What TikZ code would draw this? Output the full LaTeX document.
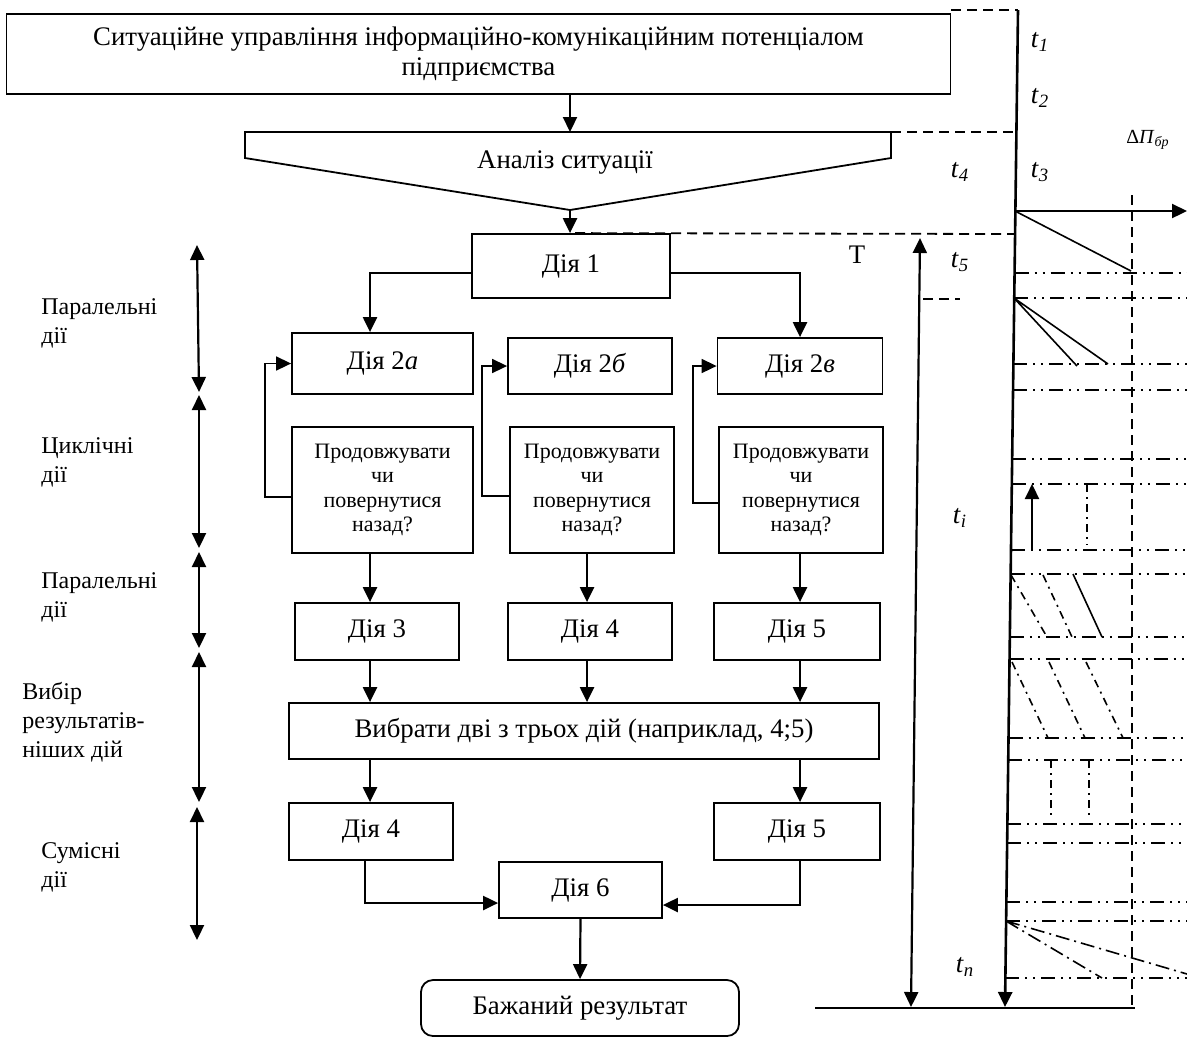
\documentclass[tikz,border=0pt]{standalone}
\usepackage{fontspec}
\setmainfont{Liberation Serif}
\usetikzlibrary{arrows.meta,positioning}

\tikzset{
  box/.style={draw, line width=0.9pt, inner sep=1pt, align=center,
    font=\fontsize{13.4}{15}\selectfont},
  qbox/.style={box, font=\fontsize{11}{12.2}\selectfont},
  lab/.style={anchor=west, align=left, inner sep=0pt, font=\fontsize{12}{14.5}\selectfont},
  tlab/.style={inner sep=0pt, font=\fontsize{13.4}{15}\selectfont},
  arr/.style={-{Triangle[length=7.5pt,width=7pt]}, line width=1.1pt},
  fb/.style={-{Triangle[length=7.5pt,width=7pt]}, line width=0.8pt},
  span/.style={{Triangle[length=7.5pt,width=7pt]}-{Triangle[length=7.5pt,width=7pt]}, line width=1.1pt},
  gridline/.style={line width=0.9pt, dash pattern=on 7pt off 3pt on 1pt off 3pt on 1pt off 3pt},
  trend/.style={line width=0.8pt, dash pattern=on 4pt off 2.5pt on 1pt off 2.5pt},
  trendlong/.style={line width=0.8pt, dash pattern=on 7pt off 2.5pt on 1pt off 2.5pt},
  lvl/.style={line width=0.9pt, dash pattern=on 5pt off 3pt},
}

\begin{document}
\begin{tikzpicture}[x=0.5pt,y=-0.5pt]
  \useasboundingbox (0,0) rectangle (1187,1041);

  % blocks
  \node[box, minimum width=472pt, minimum height=40pt] (sit) at (478.5,54)
    {Ситуаційне управління інформаційно-комунікаційним потенціалом\\підприємства};
  \coordinate (anTop) at (570,132);
  \coordinate (anTip) at (570,210);
  \draw[line width=0.9pt] (245,132) -- (891,132) -- (891,158) -- (anTip) -- (245,158) -- cycle;
  \node[tlab] (an) at (565,163) {Аналіз ситуації};

  \node[box, minimum width=99pt, minimum height=32pt] (d1) at (571,266) {Дія 1};
  \node[box, minimum width=90.5pt, minimum height=30.5pt] (d2a) at (382.5,363.5) {Дія 2\textit{а}};
  \node[box, minimum width=82pt, minimum height=28pt] (d2b) at (590,366) {Дія 2\textit{б}};
  \node[box, minimum width=82.5pt, minimum height=28pt] (d2v) at (800,366) {Дія 2\textit{в}};
  \node[qbox, minimum width=90.5pt, minimum height=63pt] (q1) at (382.5,490) {Продовжувати\\чи\\повернутися\\назад?};
  \node[qbox, minimum width=82pt, minimum height=63pt] (q2) at (592,490) {Продовжувати\\чи\\повернутися\\назад?};
  \node[qbox, minimum width=82pt, minimum height=63pt] (q3) at (801,490) {Продовжувати\\чи\\повернутися\\назад?};
  \node[box, minimum width=82pt, minimum height=28.5pt] (d3) at (377,631.5) {Дія 3};
  \node[box, minimum width=82pt, minimum height=28.5pt] (d4) at (590,631.5) {Дія 4};
  \node[box, minimum width=83pt, minimum height=28.5pt] (d5) at (797,631.5) {Дія 5};
  \node[box, minimum width=295pt, minimum height=28pt] (sel) at (584,731) {Вибрати дві з трьох дій (наприклад, 4;5)};
  \node[box, minimum width=82pt, minimum height=28.5pt] (d4b) at (371,831.5) {Дія 4};
  \node[box, minimum width=83pt, minimum height=28.5pt] (d5b) at (797,831.5) {Дія 5};
  \node[box, minimum width=81.5pt, minimum height=28pt] (d6) at (580.5,890) {Дія 6};
  \node[box, rounded corners=6pt, minimum width=159pt, minimum height=28pt] (res) at (580,1008) {Бажаний результат};

  % columns of the arrows
  \coordinate (cL) at (370,0);
  \coordinate (cM) at (587,0);
  \coordinate (cR) at (800,0);

  \draw[arr] (sit.south -| anTop) -- (anTop);
  \draw[arr] (anTip) -- (d1.north -| anTip);
  \draw[arr] (d1.west |- 0,273) -| (d2a.north -| cL);
  \draw[arr] (d1.east |- 0,273) -| (d2v.north -| cR);
  \draw[fb] (q1.west |- 0,497) -- ++(-26,0) |- (d2a.west);
  \draw[fb] (q2.west |- 0,496) -- ++(-27,0) |- (d2b.west);
  \draw[fb] (q3.west |- 0,503) -- ++(-25,0) |- (d2v.west);
  \draw[arr] (q1.south -| cL) -- (d3.north -| cL);
  \draw[arr] (q2.south -| cM) -- (d4.north -| cM);
  \draw[arr] (q3.south -| cR) -- (d5.north -| cR);
  \draw[arr] (d3.south -| cL) -- (sel.north -| cL);
  \draw[arr] (d4.south -| cM) -- (sel.north -| cM);
  \draw[arr] (d5.south -| cR) -- (sel.north -| cR);
  \draw[arr] (sel.south -| cL) -- (d4b.north -| cL);
  \draw[arr] (sel.south -| cR) -- (d5b.north -| cR);
  \draw[arr] (d4b.south -| 365,0) |- (d6.west |- 0,903);
  \draw[arr] (d5b.south -| cR) |- (d6.east |- 0,905);
  \draw[arr] (d6.south) -- (res.north);

  % stages
  \node[lab] (s1) at (41,323) {Паралельні\\дії};
  \node[lab] (s2) at (41,462) {Циклічні\\дії};
  \node[lab] (s3) at (41,597) {Паралельні\\дії};
  \node[lab] (s4) at (22,722) {Вибір\\результатів-\\ніших дій};
  \node[lab] (s5) at (41,867) {Сумісні\\дії};
  \draw[span] (197,245) -- (199,392);
  \draw[span] (199,395) -- (199,548);
  \draw[span] (199,552) -- (199,648);
  \draw[span] (199,652) -- (199,802);
  \draw[span] (197,807) -- (197,940);

  % time axis
  \coordinate (axT) at (1018,10);
  \coordinate (axB) at (1005,1007);
  \coordinate (o) at (1015,211);
  \draw[arr, line width=1.3pt] (axT) -- (axB);
  \draw[span] (920,238) -- (911,1007);
  \draw[line width=0.9pt] (815,1008) -- (1135,1008);
  \draw[arr] (o) -- (1187,211);
  \draw[lvl] (1132,195) -- (1132,1008);
  \draw[lvl] (951,10) -- (axT);
  \draw[lvl] (891,132) -- (1016,132);
  \draw[lvl] (d1.north -| 575,0) -- (1015,234);
  \draw[lvl] (923,299) -- (960,299);

  \draw[gridline] (1014.6,273) -- (1187,273) (1014.3,298) -- (1187,298)
    (1013.4,364) -- (1187,364) (1013.1,390) -- (1187,390)
    (1012.2,459) -- (1187,459) (1011.8,484) -- (1187,484)
    (1011.0,550) -- (1187,550) (1010.7,574) -- (1187,574)
    (1009.8,637) -- (1187,637) (1009.6,659) -- (1187,659)
    (1008.5,738) -- (1187,738) (1008.3,760) -- (1187,760)
    (1007.4,824) -- (1187,824) (1007.2,843) -- (1187,843)
    (1006.4,902) -- (1187,902) (1006.2,921) -- (1187,921)
    (1005.4,978) -- (1187,978);

  \draw[line width=0.8pt] (o) -- (1131,271);
  \draw[line width=0.8pt] (1014,298) -- (1077,366) (1014,298) -- (1108,364);
  \draw[arr] (1032,549) -- (1032,484);
  \draw[trend] (1087,484) -- (1087,545);
  \draw[line width=0.8pt] (1073,574) -- (1102,637);
  \draw[trend] (1011,575) -- (1047,637) (1043,575) -- (1072,637);
  \draw[trend] (1012,662) -- (1048,738) (1049,662) -- (1085,738) (1086,662) -- (1123,738);
  \draw[trend] (1051,760) -- (1051,818) (1089,760) -- (1089,818);
  \draw[trendlong] (1006,921) -- (1102,978) (1006,921) -- (1187,974);

  % labels
  \node[tlab] (t1) at (1040,42) {\textit{t}\textsubscript{\textit{1}}};
  \node[tlab] (t2) at (1040,98) {\textit{t}\textsubscript{\textit{2}}};
  \node[tlab] (t3) at (1040,172) {\textit{t}\textsubscript{\textit{3}}};
  \node[tlab] (t4) at (960,172) {\textit{t}\textsubscript{\textit{4}}};
  \node[tlab] (t5) at (960,262) {\textit{t}\textsubscript{\textit{5}}};
  \node[tlab] (ti) at (960,518) {\textit{t}\textsubscript{\textit{i}}};
  \node[tlab] (tn) at (965,967) {\textit{t}\textsubscript{\textit{n}}};
  \node[tlab] (T) at (857,255) {T};
  \node[tlab, font=\fontsize{10}{12}\selectfont] (dp) at (1148,140) {Δ\textit{П}\textsubscript{\textit{бр}}};
\end{tikzpicture}
\end{document}
